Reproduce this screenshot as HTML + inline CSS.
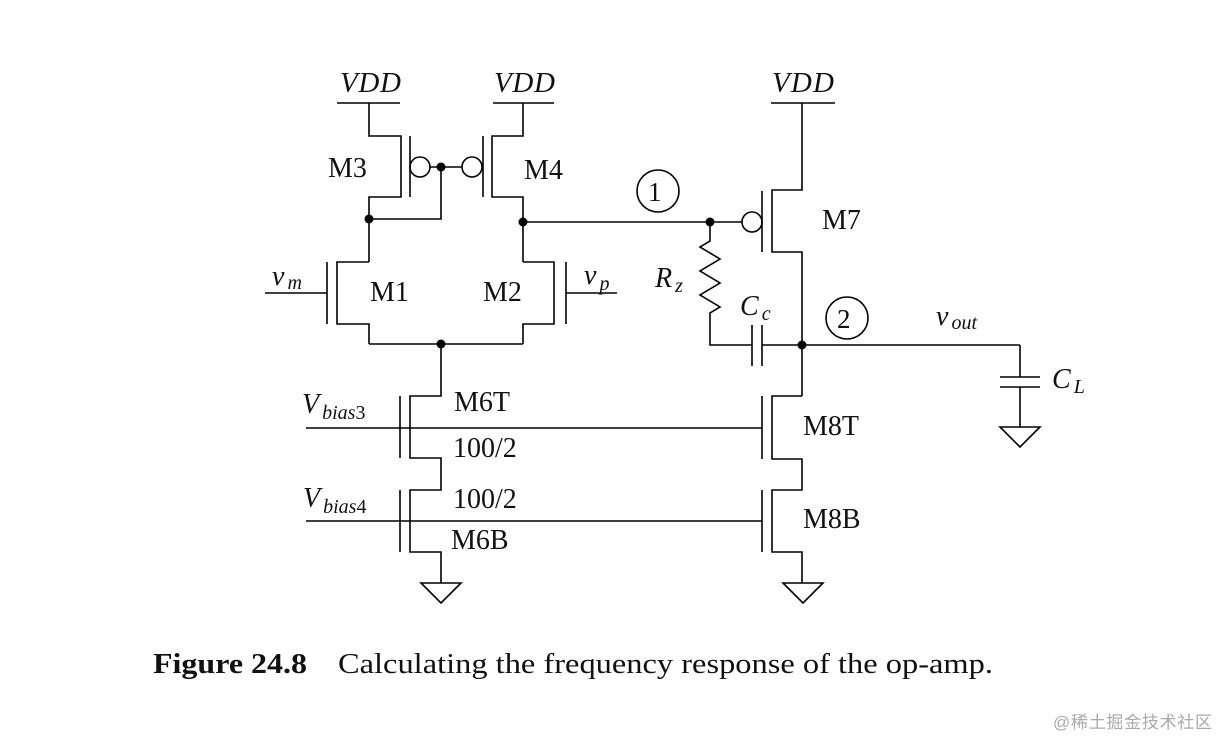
<!DOCTYPE html>
<html><head><meta charset="utf-8"><style>
html,body{margin:0;padding:0;background:#fff;}
svg{display:block;}
text{font-family:"Liberation Serif",serif;fill:#111;}
.i{font-style:italic;}
</style></head><body>
<svg width="1219" height="741" viewBox="0 0 1219 741" xmlns="http://www.w3.org/2000/svg">
<g stroke="#000" stroke-width="1.6" fill="none">
<line x1="337" y1="103" x2="400" y2="103"/>
<line x1="493" y1="103" x2="554" y2="103"/>
<line x1="771" y1="103" x2="835" y2="103"/>
<polyline points="369,103 369,136 401,136 401,197 369,197 369,262"/>
<line x1="410" y1="136" x2="410" y2="197"/>
<circle cx="420" cy="167" r="10"/>
<line x1="430" y1="167" x2="462" y2="167"/>
<circle cx="472" cy="167" r="10"/>
<line x1="483" y1="136" x2="483" y2="197"/>
<polyline points="369,219 441,219 441,167"/>
<polyline points="523,103 523,136 492,136 492,197 523,197 523,262"/>
<polyline points="369,262 337,262 337,324 369,324 369,344"/>
<line x1="327" y1="262" x2="327" y2="324"/>
<line x1="265" y1="293" x2="327" y2="293"/>
<polyline points="523,262 554,262 554,324 523,324 523,344"/>
<line x1="566" y1="262" x2="566" y2="324"/>
<line x1="566" y1="293" x2="617" y2="293"/>
<line x1="369" y1="344" x2="523" y2="344"/>
<line x1="523" y1="222" x2="742" y2="222"/>
<circle cx="752" cy="222" r="10"/>
<line x1="762" y1="191" x2="762" y2="252"/>
<polyline points="802,103 802,190 772,190 772,252 802,252 802,396"/>
<polyline points="710,222 710,241 700,247 720,259 700,271 720,283 700,295 720,307 710,313 710,345 752,345"/>
<line x1="752" y1="325" x2="752" y2="366"/>
<line x1="762" y1="325" x2="762" y2="366"/>
<line x1="762" y1="345" x2="1020" y2="345"/>
<polyline points="1020,345 1020,377"/>
<line x1="1000" y1="377" x2="1040" y2="377"/>
<line x1="1000" y1="387" x2="1040" y2="387"/>
<line x1="1020" y1="387" x2="1020" y2="427"/>
<polygon points="1000,427 1040,427 1020,447"/>
<polyline points="441,344 441,396 410,396 410,458 441,458 441,490 410,490 410,552 441,552 441,583"/>
<line x1="400" y1="396" x2="400" y2="458"/>
<line x1="400" y1="490" x2="400" y2="552"/>
<polygon points="421,583 461,583 441,603"/>
<polyline points="802,396 772,396 772,459 802,459 802,490 772,490 772,552 802,552 802,583"/>
<line x1="762" y1="396" x2="762" y2="459"/>
<line x1="762" y1="490" x2="762" y2="552"/>
<polygon points="783,583 823,583 803,603"/>
<line x1="306" y1="428" x2="762" y2="428"/>
<line x1="306" y1="521" x2="762" y2="521"/>
<circle cx="658" cy="191" r="21"/>
<circle cx="847" cy="318" r="21"/>
</g>
<g fill="#000">
<circle cx="441" cy="167" r="4.5"/>
<circle cx="369" cy="219" r="4.5"/>
<circle cx="523" cy="222" r="4.5"/>
<circle cx="441" cy="344" r="4.5"/>
<circle cx="710" cy="222" r="4.5"/>
<circle cx="802" cy="345" r="4.5"/>
</g>
<g font-size="28">
<text x="340" y="92" class="i" font-size="29" textLength="61">VDD</text>
<text x="494" y="92" class="i" font-size="29" textLength="61">VDD</text>
<text x="772" y="92" class="i" font-size="29" textLength="62">VDD</text>
<text x="328" y="177">M3</text>
<text x="524" y="179">M4</text>
<text x="370" y="301">M1</text>
<text x="483" y="301">M2</text>
<text x="822" y="229">M7</text>
<text x="648" y="201" font-size="27">1</text>
<text x="837" y="328" font-size="27">2</text>
<text x="454" y="411">M6T</text>
<text x="453" y="457">100/2</text>
<text x="453" y="508">100/2</text>
<text x="451" y="549">M6B</text>
<text x="803" y="435">M8T</text>
<text x="803" y="528">M8B</text>
<text x="272" y="285" class="i">v<tspan font-size="20" dx="3" dy="4">m</tspan></text>
<text x="584" y="284" class="i">v<tspan font-size="20" dx="3" dy="6">p</tspan></text>
<text x="655" y="287" class="i">R<tspan font-size="20" dx="3" dy="5">z</tspan></text>
<text x="740" y="315" class="i">C<tspan font-size="20" dx="3" dy="5">c</tspan></text>
<text x="936" y="325" class="i">v<tspan font-size="20" dx="3" dy="4">out</tspan></text>
<text x="1052" y="388" class="i">C<tspan font-size="20" dx="3" dy="5">L</tspan></text>
<text x="302" y="413" class="i">V<tspan font-size="20" dx="3" dy="6">bias</tspan><tspan font-size="20" font-style="normal">3</tspan></text>
<text x="303" y="507" class="i">V<tspan font-size="20" dx="3" dy="6">bias</tspan><tspan font-size="20" font-style="normal">4</tspan></text>
<text x="153" y="673" font-weight="bold" textLength="154" lengthAdjust="spacingAndGlyphs">Figure 24.8</text>
<text x="338" y="673" textLength="655" lengthAdjust="spacingAndGlyphs">Calculating the frequency response of the op-amp.</text>
</g>
<text x="1053" y="728" font-size="17" style="font-family:'Liberation Sans','Noto Sans CJK SC',sans-serif;fill:#aaa" textLength="159">@稀土掘金技术社区</text>
</svg>
</body></html>
